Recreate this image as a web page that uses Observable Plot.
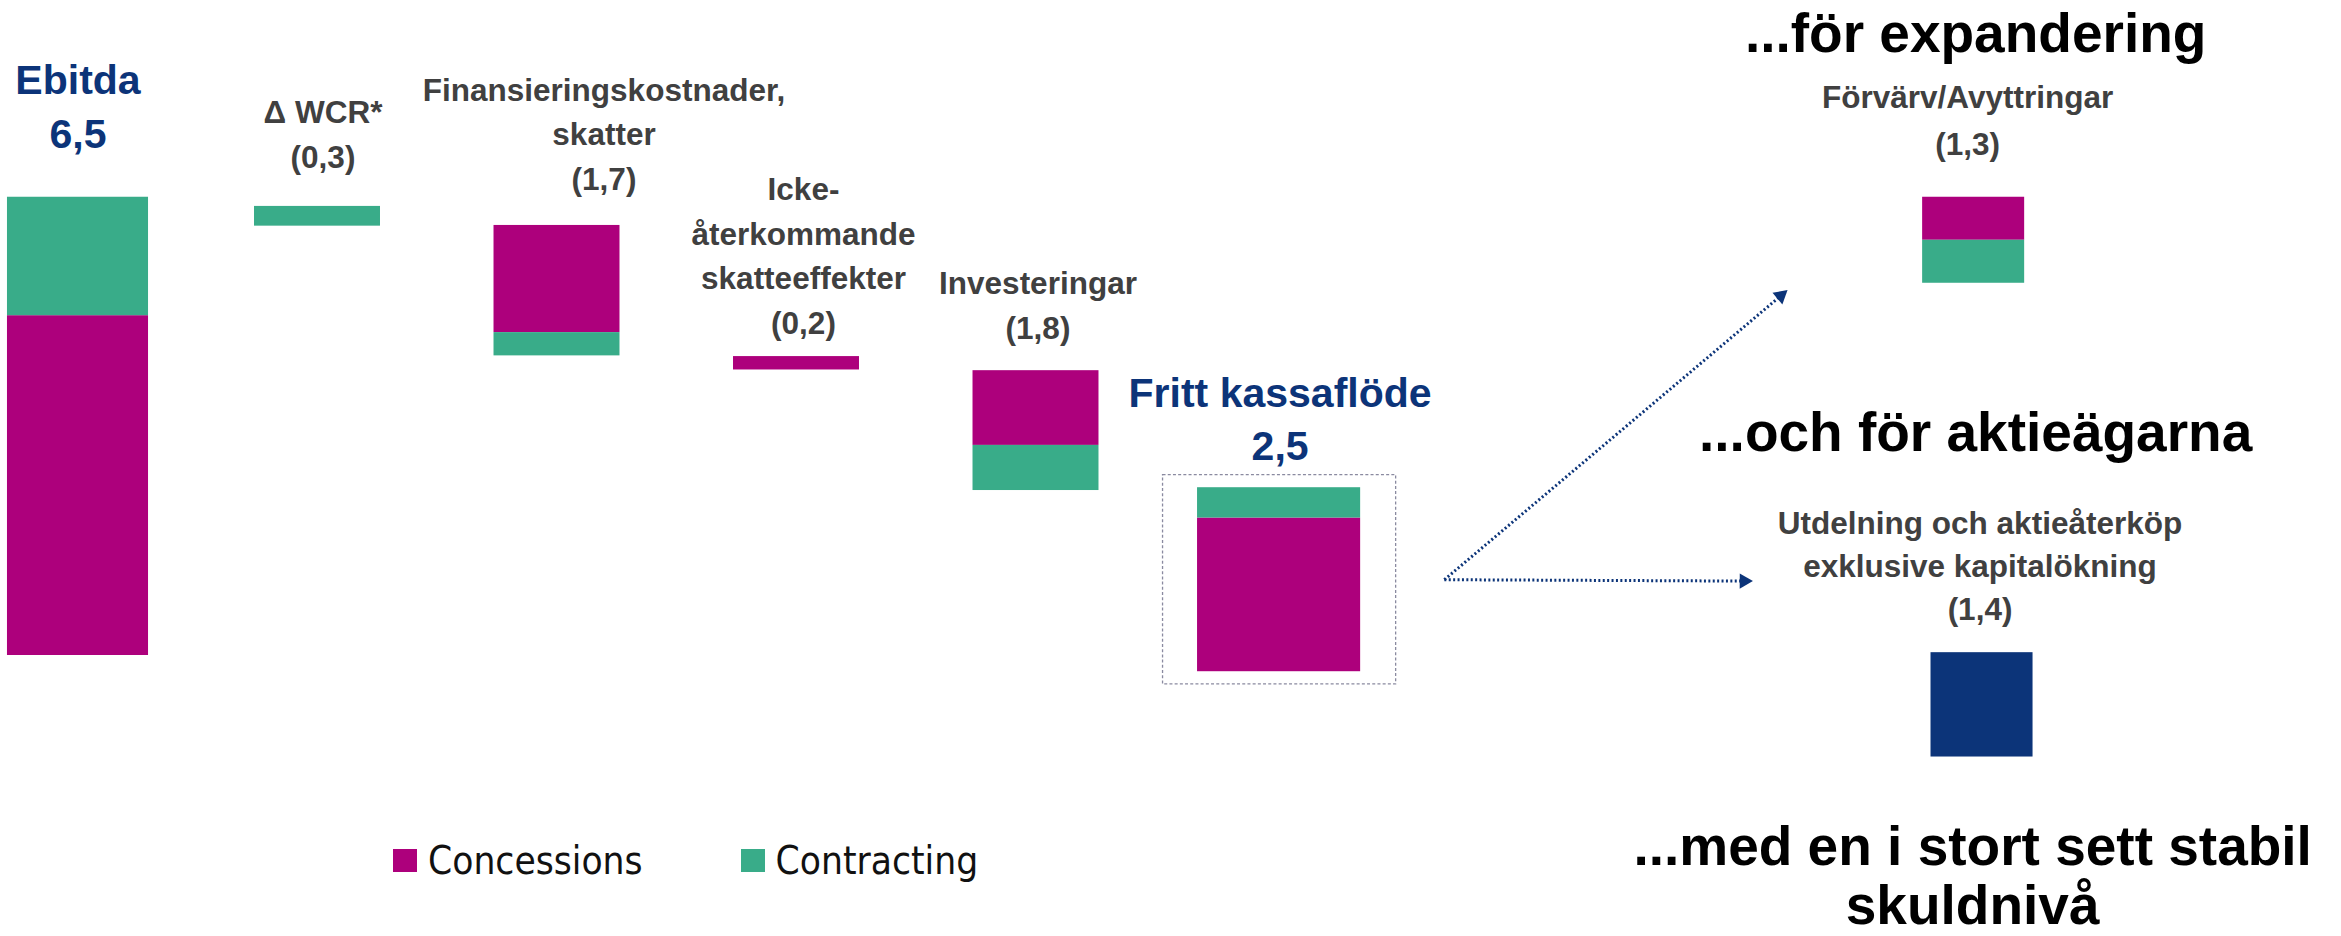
<!DOCTYPE html>
<html><head><meta charset="utf-8">
<script src="https://cdn.jsdelivr.net/npm/d3@7"></script>
<script src="https://cdn.jsdelivr.net/npm/@observablehq/plot@0.6"></script>
<style>
html,body{margin:0;padding:0;background:#fff;}
#wrap{position:relative;width:2341px;height:936px;overflow:hidden;}
#legend{position:absolute;left:393px;top:838px;}
.lg-swatches{font-family:"DejaVu Sans Condensed","DejaVu Sans",sans-serif !important;font-stretch:condensed;font-size:38.5px !important;color:#111 !important;margin:0 !important;min-height:0 !important;}
.lg-swatch{margin-right:98px !important;}
.lg-swatch > svg{margin-right:11px !important;}
</style></head><body><div id="wrap"><div id="legend"></div></div>
<script>
// ---------- data ----------
const categories = ["Ebitda", "ΔWCR", "Finansiering", "Icke-återkommande", "Investeringar", "Fritt kassaflöde", "Förvärv/Avyttringar", "Utdelning"];
const labels = ["Ebitda", "Δ WCR*", "Finansieringskostnader,\nskatter", "Icke-\nåterkommande\nskatteeffekter", "Investeringar", "Fritt kassaflöde", "Förvärv/Avyttringar", "Utdelning och aktieåterköp\nexklusive kapitalökning"];
const reportedValues = [6.5, -0.3, -1.7, -0.2, -1.8, 2.5, -1.3, -1.4];
const concessions = [4.82, 0, 1.52, 0.19, 1.06, 2.18, 0.61, 0];
const contracting = [1.68, 0.28, 0.33, 0, 0.64, 0.43, 0.61, 0];
const shareholders = [0, 0, 0, 0, 0, 0, 0, 1.48];
const startLevel = [0, 6.37, 6.10, 4.24, 4.04, -0.23, 6.50, 0.04];
const barKind = ["total", "step", "step", "step", "step", "total", "step", "step"];
const seriesNames = ["Concessions", "Contracting"];
const headlines = ["...för expandering", "...och för aktieägarna", "...med en i stort sett stabil\nskuldnivå"];

// ---------- layout & style (not data) ----------
const MAGENTA = "#ad007c", GREEN = "#39ac89", NAVY = "#0c3479", GRAY = "#404040";
const PX_SLOT = 239.5, PX_UNIT = 70.5, W = 2341, H = 936, X0 = 77.5, Y0 = 655;
const slot = [0, 1, 2, 3, 4, 5.015, 7.915, 7.95];
const barW = [0.589, 0.526, 0.526, 0.526, 0.526, 0.681, 0.426, 0.426];
const labelDx = [0, 5.5, 47, 7, 2, 1, -6, -2];
const labelGap = [49, 38.7, 35.3, 23, 31.4, 28, 42, 33];
const labelLH = [1.33, 1.42, 1.42, 1.41, 1.45, 1.29, 1.49, 1.36];
const FONT = "'Liberation Sans', Arial, sans-serif";

const fmt = v => { const s = Math.abs(v).toFixed(1).replace(".", ","); return v < 0 ? `(${s})` : s; };

// segments
const segments = [];
const tops = [];
categories.forEach((c, i) => {
  const parts = [["Concessions", concessions[i]], ["Contracting", contracting[i]], ["Aktieägare", shareholders[i]]].filter(d => d[1] > 0);
  let lvl = startLevel[i];
  let top = startLevel[i];
  for (const [s, v] of parts) {
    const a = lvl, b = barKind[i] === "total" ? lvl + v : lvl - v;
    segments.push({category: c, series: s, x1: slot[i] - barW[i] / 2, x2: slot[i] + barW[i] / 2, y1: Math.min(a, b), y2: Math.max(a, b)});
    top = Math.max(top, a, b);
    lvl = b;
  }
  tops.push(top);
});

const iF = categories.indexOf("Fritt kassaflöde");
const iR = categories.indexOf("Förvärv/Avyttringar");
const fkfSegs = segments.filter(d => d.category === "Fritt kassaflöde");
const fkfBox = {x1: fkfSegs[0].x1, x2: fkfSegs[0].x2, y1: d3.min(fkfSegs, d => d.y1), y2: d3.max(fkfSegs, d => d.y2)};
const fkfMid = (fkfBox.y1 + fkfBox.y2) / 2;
const forvBottom = d3.min(segments.filter(d => d.category === "Förvärv/Avyttringar"), d => d.y1);

const arrowStart = {x: slot[iF] + 0.69, y: fkfMid};
const arrowTips = [
  {x: slot[iR] - 0.769, y: forvBottom - 0.074},
  {x: slot[iR] - 0.911, y: fkfMid - 0.02}
];
const HEAD = 17;
const links = [], heads = [];
for (const t of arrowTips) {
  const dxp = (t.x - arrowStart.x) * PX_SLOT, dyp = -(t.y - arrowStart.y) * PX_UNIT;
  const L = Math.hypot(dxp, dyp), ux = dxp / L, uy = dyp / L;
  const back = (k) => ({x: t.x - ux * k / PX_SLOT, y: t.y + uy * k / PX_UNIT});
  const e = back(HEAD * 0.8);
  links.push({x1: arrowStart.x, y1: arrowStart.y, x2: e.x, y2: e.y});
  const c = back(HEAD * 2 / 3);
  heads.push({x: c.x, y: c.y, rotate: Math.atan2(ux, -uy) * 180 / Math.PI});
}

const labelMarks = categories.map((c, i) => {
  const isTotal = barKind[i] === "total";
  return Plot.text([{x: slot[i], y: tops[i], text: labels[i] + "\n" + fmt(reportedValues[i])}], {
    x: "x", y: "y", text: "text", dx: labelDx[i], dy: -labelGap[i],
    lineAnchor: "bottom", textAnchor: "middle", lineHeight: labelLH[i],
    fontSize: isTotal ? 41 : 31.5, fontWeight: "bold", fontFamily: FONT,
    fill: isTotal ? NAVY : GRAY
  });
});

const headBase = [51, 450, 923];
const headLH = [1.145, 1.145, 1.055];
const headMarks = headlines.map((h, k) => Plot.text([{x: slot[iR], text: h}], {
  x: "x", text: "text", frameAnchor: "top", dy: headBase[k], dx: k === 2 ? -1 : 2,
  lineAnchor: "bottom", lineHeight: headLH[k], textAnchor: "middle",
  fontSize: 55, fontWeight: "bold", fontFamily: FONT, fill: "#000"
}));

const plot = Plot.plot({
  width: W, height: H,
  marginTop: 0, marginRight: 0, marginBottom: 0, marginLeft: 0,
  x: {type: "linear", domain: [-X0 / PX_SLOT, (W - X0) / PX_SLOT], axis: null},
  y: {type: "linear", domain: [(Y0 - H) / PX_UNIT, Y0 / PX_UNIT], axis: null},
  color: {domain: ["Concessions", "Contracting", "Aktieägare"], range: [MAGENTA, GREEN, NAVY]},
  style: {background: "#fff"},
  marks: [
    Plot.rect([fkfBox], {x1: "x1", x2: "x2", y1: "y1", y2: "y2", insetLeft: -34.5, insetRight: -35.5, insetTop: -12.6, insetBottom: -12.7,
      fill: "none", stroke: "#8a8aa0", strokeWidth: 1.3, strokeDasharray: "3,2.2"}),
    Plot.rect(segments, {x1: "x1", x2: "x2", y1: "y1", y2: "y2", fill: "series"}),
    Plot.link(links, {x1: "x1", y1: "y1", x2: "x2", y2: "y2", stroke: NAVY, strokeWidth: 3, strokeDasharray: "2,2.4"}),
    Plot.dot(heads, {x: "x", y: "y", rotate: "rotate", symbol: "triangle2", r: 7.3, fill: NAVY, stroke: "none"}),
    ...labelMarks,
    ...headMarks
  ]
});
document.getElementById("wrap").prepend(plot);

const legend = Plot.legend({
  color: {type: "ordinal", domain: seriesNames, range: [MAGENTA, GREEN]},
  legend: "swatches", swatchWidth: 24, swatchHeight: 23, className: "lg"
});
document.getElementById("legend").appendChild(legend);
</script></body></html>
